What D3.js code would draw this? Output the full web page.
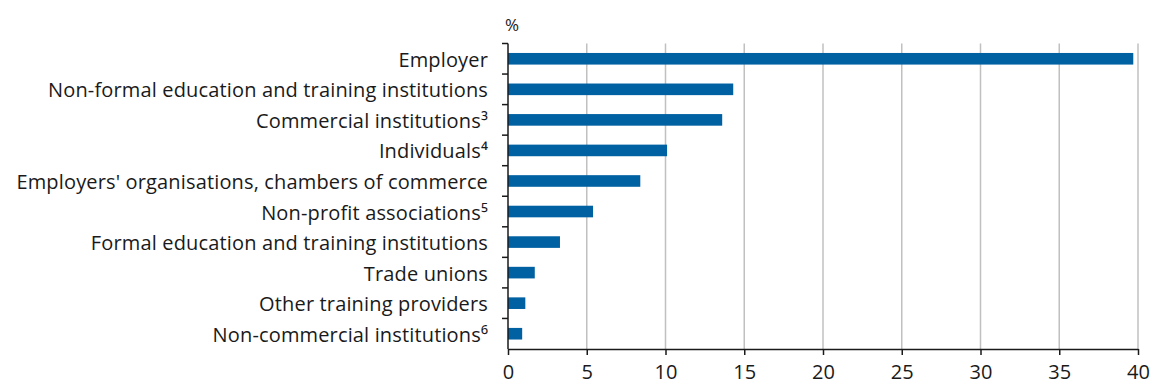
<!DOCTYPE html>
<html>
<head>
<meta charset="utf-8">
<script src="https://cdn.jsdelivr.net/npm/d3@7"></script>
<style>
  html, body { margin: 0; padding: 0; background: #fff; }
  svg { display: block; }
  text { font-family: "Open Sans", "Noto Sans", sans-serif; fill: #1a1a1a; }
</style>
</head>
<body>
<svg id="chart" width="1153" height="385"></svg>
<script>
// Training providers, share in %
const categories = [
  "Employer",
  "Non-formal education and training institutions",
  "Commercial institutions\u00B3",
  "Individuals\u2074",
  "Employers' organisations, chambers of commerce",
  "Non-profit associations\u2075",
  "Formal education and training institutions",
  "Trade unions",
  "Other training providers",
  "Non-commercial institutions\u2076"
];
const values = [39.7, 14.3, 13.6, 10.1, 8.4, 5.4, 3.3, 1.7, 1.1, 0.9];
const xTicks = [0, 5, 10, 15, 20, 25, 30, 35, 40];
const unitLabel = "%";

const margin = { top: 43.5, right: 15, bottom: 36, left: 508 };
const width = 1153, height = 385;
const svg = d3.select("#chart");

const x = d3.scaleLinear()
  .domain([0, 40])
  .range([margin.left, width - margin.right]);

const y = d3.scaleBand()
  .domain(categories)
  .range([margin.top, height - margin.bottom])
  .paddingInner(0.62)
  .paddingOuter(0.31);

// vertical gridlines
svg.append("g")
  .selectAll("line")
  .data(xTicks.filter(d => d > 0))
  .join("line")
  .attr("x1", d => x(d)).attr("x2", d => x(d))
  .attr("y1", margin.top).attr("y2", height - margin.bottom)
  .attr("stroke", "#c0c0c0")
  .attr("stroke-width", 1.5);

// bars
svg.append("g")
  .selectAll("rect")
  .data(values)
  .join("rect")
  .attr("x", x(0))
  .attr("y", (d, i) => y(categories[i]))
  .attr("width", d => x(d) - x(0))
  .attr("height", y.bandwidth())
  .attr("fill", "#0061a2");

// x axis
const xAxis = svg.append("g")
  .attr("transform", `translate(0,${height - margin.bottom})`)
  .call(d3.axisBottom(x).tickValues(xTicks).tickSize(6).tickPadding(10).tickSizeOuter(0));
xAxis.select(".domain").attr("stroke", "#1a1a1a").attr("stroke-width", 1.5);
xAxis.selectAll(".tick line").attr("stroke", "#1a1a1a").attr("stroke-width", 1.5);
xAxis.selectAll(".tick text")
  .style("font-family", "'Open Sans', 'Noto Sans', sans-serif")
  .style("font-size", "20px")
  .attr("fill", "#1a1a1a");

// y axis: ticks at band boundaries
const yAxisG = svg.append("g");
yAxisG.append("line")
  .attr("x1", x(0)).attr("x2", x(0))
  .attr("y1", margin.top).attr("y2", height - margin.bottom)
  .attr("stroke", "#1a1a1a").attr("stroke-width", 1.5);
const step = y.step();
const boundaries = d3.range(categories.length).map(i => margin.top + i * step);
yAxisG.selectAll("line.tk")
  .data(boundaries)
  .join("line")
  .attr("class", "tk")
  .attr("x1", x(0) - 6).attr("x2", x(0))
  .attr("y1", d => d).attr("y2", d => d)
  .attr("stroke", "#1a1a1a").attr("stroke-width", 1.5);

// category labels
yAxisG.selectAll("text")
  .data(categories)
  .join("text")
  .attr("x", x(0) - 20)
  .attr("y", d => y(d) + y.bandwidth() / 2)
  .attr("dy", "0.4em")
  .attr("text-anchor", "end")
  .style("font-size", "20px")
  .style("letter-spacing", "0.15px")
  .text(d => d);

// unit label
svg.append("text")
  .attr("x", 505)
  .attr("y", 30.5)
  .style("font-size", "17px")
  .text(unitLabel);
</script>
</body>
</html>
